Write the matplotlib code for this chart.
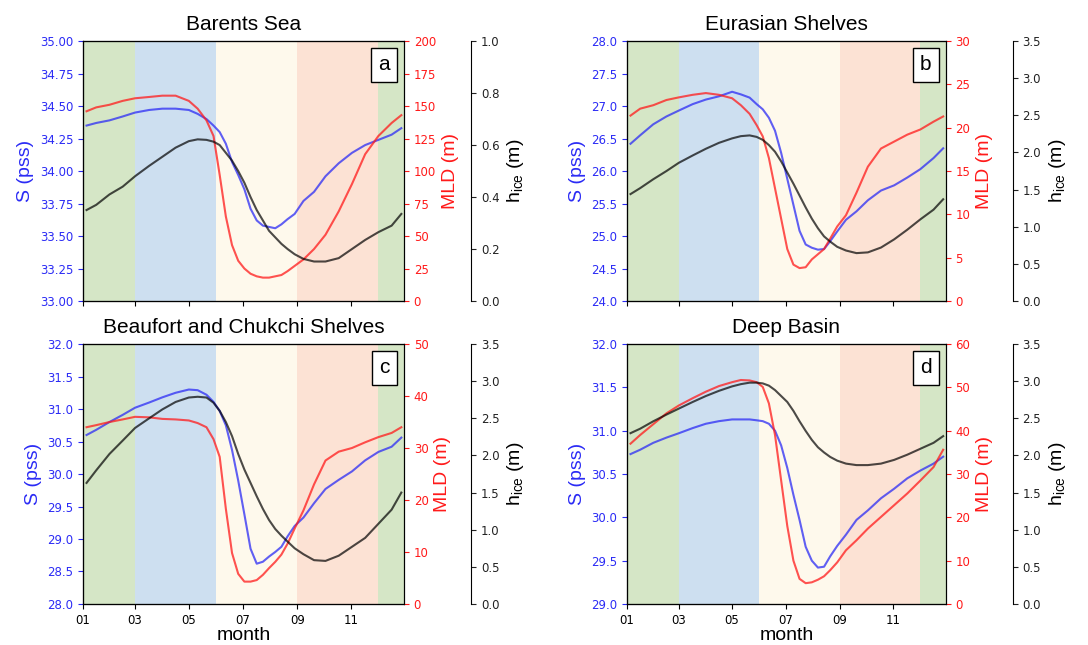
import numpy as np
import matplotlib
matplotlib.use("Agg")
import matplotlib.pyplot as plt
import matplotlib.dates as mdates
from matplotlib.ticker import MultipleLocator

plt.rcParams['mathtext.default'] = 'regular'

# day of year (0 = Jan 1) for every sample below
days = [4, 15, 30, 45, 59, 75, 90, 105, 120, 130, 140, 148, 155, 162, 169, 176, 183,
        190, 197, 204, 211, 218, 225, 232, 240, 250, 262, 275, 290, 305, 320, 335, 350, 361]

# Barents Sea
S_a = [34.35, 34.37, 34.39, 34.42, 34.45, 34.47, 34.48, 34.48, 34.47, 34.44, 34.40, 34.35,
       34.30, 34.21, 34.07, 33.97, 33.86, 33.71, 33.62, 33.58, 33.57, 33.56, 33.59, 33.63,
       33.67, 33.77, 33.84, 33.96, 34.06, 34.14, 34.20, 34.24, 34.28, 34.33]
MLD_a = [146, 149, 151, 154, 156, 157, 158, 158, 154, 148, 139, 127, 97, 65, 43, 31, 25,
         21, 19, 18, 18, 19, 20, 23, 27, 32, 40, 51, 69, 90, 113, 127, 137, 143]
H_a = [0.35, 0.37, 0.41, 0.44, 0.48, 0.52, 0.555, 0.59, 0.615, 0.622, 0.62, 0.613, 0.60,
       0.57, 0.54, 0.50, 0.455, 0.40, 0.35, 0.31, 0.27, 0.245, 0.22, 0.20, 0.18, 0.162,
       0.152, 0.152, 0.165, 0.20, 0.235, 0.265, 0.29, 0.335]

# Eurasian Shelves
S_b = [26.42, 26.55, 26.72, 26.84, 26.93, 27.03, 27.10, 27.15, 27.22, 27.18, 27.13, 27.03,
       26.95, 26.82, 26.62, 26.28, 25.88, 25.48, 25.08, 24.87, 24.82, 24.79, 24.80, 24.92,
       25.07, 25.25, 25.38, 25.55, 25.70, 25.78, 25.90, 26.03, 26.20, 26.35]
MLD_b = [21.4, 22.2, 22.6, 23.2, 23.5, 23.8, 24.0, 23.8, 23.4, 22.6, 21.6, 20.3, 19.0, 16.5,
         13.0, 9.5, 6.0, 4.2, 3.8, 3.9, 4.8, 5.4, 6.0, 7.2, 8.6, 9.9, 12.5, 15.5, 17.6,
         18.4, 19.2, 19.8, 20.7, 21.3]
H_b = [1.44, 1.52, 1.64, 1.75, 1.86, 1.96, 2.05, 2.13, 2.19, 2.22, 2.23, 2.21, 2.17, 2.10,
       2.01, 1.88, 1.73, 1.58, 1.42, 1.26, 1.11, 0.98, 0.87, 0.80, 0.73, 0.68, 0.645, 0.655,
       0.72, 0.83, 0.96, 1.10, 1.23, 1.37]

# Beaufort and Chukchi Shelves
S_c = [30.60, 30.68, 30.80, 30.91, 31.02, 31.10, 31.18, 31.25, 31.30, 31.29, 31.22, 31.11,
       30.97, 30.75, 30.37, 29.90, 29.38, 28.85, 28.62, 28.65, 28.73, 28.80, 28.88, 29.04,
       29.20, 29.33, 29.55, 29.77, 29.91, 30.04, 30.21, 30.34, 30.42, 30.56]
MLD_c = [34.0, 34.4, 35.0, 35.5, 36.0, 35.9, 35.6, 35.5, 35.3, 34.8, 34.0, 31.7, 28.3, 18.3,
         9.8, 5.8, 4.3, 4.3, 4.6, 5.6, 6.9, 8.1, 9.5, 11.6, 14.5, 18.0, 23.0, 27.6, 29.3,
         30.0, 31.1, 32.1, 32.9, 34.0]
H_c = [1.63, 1.80, 2.02, 2.20, 2.37, 2.50, 2.62, 2.72, 2.78, 2.79, 2.78, 2.71, 2.60, 2.45,
       2.26, 2.02, 1.81, 1.63, 1.45, 1.28, 1.13, 1.01, 0.92, 0.84, 0.75, 0.67, 0.59, 0.58,
       0.65, 0.77, 0.89, 1.08, 1.27, 1.50]

# Deep Basin
S_d = [30.73, 30.78, 30.86, 30.92, 30.97, 31.03, 31.08, 31.11, 31.13, 31.13, 31.13, 31.12,
       31.11, 31.08, 31.00, 30.83, 30.57, 30.26, 29.97, 29.66, 29.50, 29.42, 29.43, 29.55,
       29.67, 29.80, 29.97, 30.08, 30.22, 30.33, 30.45, 30.54, 30.62, 30.70]
MLD_d = [37.0, 39.0, 41.5, 44.0, 45.8, 47.5, 49.0, 50.3, 51.2, 51.7, 51.6, 51.2, 50.1, 46.3,
         39.0, 28.5, 18.0, 10.0, 5.8, 4.8, 5.0, 5.6, 6.4, 7.8, 9.6, 12.4, 14.7, 17.4, 20.1,
         22.8, 25.5, 28.5, 31.6, 35.6]
H_d = [2.30, 2.36, 2.46, 2.55, 2.63, 2.72, 2.80, 2.87, 2.93, 2.96, 2.98, 2.98, 2.97, 2.94,
       2.88, 2.80, 2.72, 2.60, 2.46, 2.33, 2.21, 2.11, 2.04, 1.98, 1.93, 1.89, 1.87, 1.87,
       1.89, 1.94, 2.01, 2.09, 2.17, 2.26]

titles = ["Barents Sea", "Eurasian Shelves", "Beaufort and Chukchi Shelves", "Deep Basin"]
letters = ["a", "b", "c", "d"]
salinity = [S_a, S_b, S_c, S_d]
mld = [MLD_a, MLD_b, MLD_c, MLD_d]
hice = [H_a, H_b, H_c, H_d]
s_lims = [(33.0, 35.0, 0.25), (24.0, 28.0, 0.5), (28.0, 32.0, 0.5), (29.0, 32.0, 0.5)]
mld_lims = [(0, 200, 25), (0, 30, 5), (0, 50, 10), (0, 60, 10)]
h_lims = [(0, 1.0, 0.2), (0, 3.5, 0.5), (0, 3.5, 0.5), (0, 3.5, 0.5)]

# seasons: (start, end, colour)
seasons = [("2001-01-01", "2001-03-01", "#d5e6c6"),
           ("2001-03-01", "2001-06-01", "#cddff0"),
           ("2001-06-01", "2001-09-01", "#fef9ec"),
           ("2001-09-01", "2001-12-01", "#fce2d4"),
           ("2001-12-01", "2001-12-31", "#d5e6c6")]

dates = np.datetime64("2001-01-01") + np.array(days).astype("timedelta64[D]")

fig = plt.figure(figsize=(10.88, 6.45), dpi=100)
positions = [[0.0763, 0.5333, 0.295, 0.403], [0.5763, 0.5333, 0.293, 0.403],
             [0.0763, 0.0636, 0.295, 0.403], [0.5763, 0.0636, 0.293, 0.403]]

sans = "Liberation Sans"
blue = "#2b2bf5"
red = "#ff1a1a"

for i in range(4):
    ax = fig.add_axes(positions[i])
    for s, e, c in seasons:
        ax.axvspan(np.datetime64(s), np.datetime64(e), color=c, lw=0, zorder=0)
    ax.plot(dates, salinity[i], color=blue, alpha=0.75, lw=1.5, zorder=3)
    lo, hi, st = s_lims[i]
    ax.set_ylim(lo, hi)
    ax.yaxis.set_major_locator(MultipleLocator(st))
    if i == 0:
        ax.yaxis.set_major_formatter(plt.FormatStrFormatter("%.2f"))
    else:
        ax.yaxis.set_major_formatter(plt.FormatStrFormatter("%.1f"))
    ax.tick_params(axis="y", colors=blue, labelsize=8.5)
    ax.tick_params(axis="x", labelsize=8.5)
    ax.set_ylabel("S (pss)", color=blue, fontsize=14, family=sans)
    ax.set_xlim(np.datetime64("2001-01-01"), np.datetime64("2001-12-31"))
    ax.xaxis.set_major_locator(mdates.MonthLocator(bymonth=[1, 3, 5, 7, 9, 11]))
    ax.xaxis.set_major_formatter(mdates.DateFormatter("%m"))
    if i < 2:
        ax.set_xticklabels([])
    else:
        ax.set_xlabel("month", fontsize=14, family=sans, labelpad=0)
    ax.set_title(titles[i], fontsize=15, family=sans, pad=8)

    ax2 = ax.twinx()
    ax2.plot(dates, mld[i], color=red, alpha=0.75, lw=1.5)
    lo, hi, st = mld_lims[i]
    ax2.set_ylim(lo, hi)
    ax2.yaxis.set_major_locator(MultipleLocator(st))
    ax2.tick_params(axis="y", colors=red, labelsize=8.5)
    ax2.set_ylabel("MLD (m)", color=red, fontsize=14, family=sans)

    ax3 = ax.twinx()
    ax3.spines["right"].set_position(("axes", 1.21))
    ax3.plot(dates, hice[i], color="black", alpha=0.7, lw=1.5)
    lo, hi, st = h_lims[i]
    ax3.set_ylim(lo, hi)
    ax3.yaxis.set_major_locator(MultipleLocator(st))
    ax3.yaxis.set_major_formatter(plt.FormatStrFormatter("%.1f"))
    ax3.tick_params(axis="y", colors="#222222", labelsize=8.5)
    ax3.set_ylabel("h$_{ice}$ (m)", fontsize=14, family=sans)

    ax3.text(0.955, 0.945, letters[i], transform=ax.transAxes, ha="right", va="top",
             fontsize=15, family=sans, zorder=10,
             bbox=dict(boxstyle="square,pad=0.35", fc="white", ec="black", lw=1))

fig.savefig("out.png", dpi=100)
